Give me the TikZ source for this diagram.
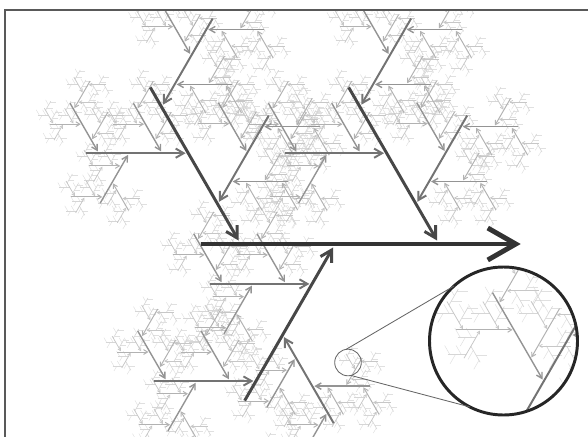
\documentclass[tikz,border=0pt]{standalone}
\usetikzlibrary{arrows.meta}

% one bone and its three smaller bones; only the bones of level \fbPass are drawn
\newcommand\fbSpine{8}
\newcommand\fbRatio{.565}
\newcommand\fbFx{0}\newcommand\fbFy{0}\newcommand\fbFr{1000}
\newcommand\fbShift{0}\newcommand\fbPass{0}

\newcommand\fishbone[4]{% start x, start y, angle, level
 \begingroup
 \pgfmathsetmacro\fbLen{\fbSpine*\fbRatio^#4}%
 \pgfmathsetmacro\fbGap{veclen(#1-\fbFx,#2-\fbFy)-3.1*\fbLen-\fbFr}%
 \ifdim\fbGap pt<0pt
  \ifnum#4=\fbPass
   \pgfmathtruncatemacro\fbLook{min(max(#4-\fbShift,0),8)}%
   \draw[bone\fbLook] (#1,#2) -- ++(#3:\fbLen);
  \else
   \fbchild{#1}{#2}{#3}{#4}{.125}{-60}%
   \fbchild{#1}{#2}{#3}{#4}{.745}{-60}%
   \fbchild{#1}{#2}{#3}{#4}{.42}{60}%
  \fi
 \fi
 \endgroup}

\newcommand\fbchild[6]{% parent x, y, angle, level; place on parent, turn
 \pgfmathsetmacro\fbAng{#3+#6}%
 \pgfmathsetmacro\fbSub{\fbLen*\fbRatio}%
 \pgfmathsetmacro\fbX{#1+#5*\fbLen*cos(#3)-\fbSub*cos(\fbAng)}%
 \pgfmathsetmacro\fbY{#2+#5*\fbLen*sin(#3)-\fbSub*sin(\fbAng)}%
 \pgfmathtruncatemacro\fbNext{#4+1}%
 \edef\fbCall{\noexpand\fishbone{\fbX}{\fbY}{\fbAng}{\fbNext}}\fbCall}

\begin{document}
\begin{tikzpicture}[x=1cm,y=1cm,
 bone0/.style={line width=3.5pt,draw=black!80,-{Straight Barb[length=.7cm,width=.8cm]}},
 bone1/.style={line width=2.1pt,draw=black!72,-{Straight Barb[length=.28cm,width=.32cm]},shorten >=.1cm},
 bone2/.style={line width=1.4pt,draw=black!55,-{Straight Barb[length=.2cm,width=.23cm]},shorten >=.065cm},
 bone3/.style={line width=1pt,draw=black!42,-{Straight Barb[length=.14cm,width=.16cm]},shorten >=.05cm},
 bone4/.style={line width=.7pt,draw=black!30,-{Straight Barb[length=.1cm,width=.12cm]},shorten >=.035cm},
 bone5/.style={line width=.55pt,draw=black!22,-{Straight Barb[length=.07cm,width=.08cm]},shorten >=.02cm},
 bone6/.style={line width=.45pt,draw=black!16},
 bone7/.style={line width=.35pt,draw=black!12},
 bone8/.style={line width=.3pt,draw=black!9},
 frame/.style={draw=black!65,line width=1.1pt},
 lensring/.style={circle,draw=black!60,line width=.6pt,minimum size=.665cm,inner sep=0pt,outer sep=0pt},
 zoomring/.style={circle,draw=black!85,line width=2.1pt,minimum size=3.7cm,inner sep=0pt,outer sep=0pt},
 lensline/.style={draw=black!60,line width=.6pt}]
\useasboundingbox (0,0) rectangle (14.7,10.9);
\begin{scope}
\clip (.125,-1) rectangle (15,10.65);
\foreach \p in {7,...,0}{\renewcommand\fbPass{\p}\fishbone{5.0175}{4.8}{0}{0}}
\end{scope}
\draw[frame] (.125,-1) rectangle (15,10.65);
% magnified view
\fill[white] (12.5875,2.375) circle[radius=1.85];
\begin{scope}
\clip (12.5875,2.375) circle[radius=1.85];
\renewcommand\fbFx{8.7}\renewcommand\fbFy{1.8375}\renewcommand\fbFr{.34}
\renewcommand\fbShift{2}
\begin{scope}[shift={(12.5875,2.375)},scale=5.564,shift={(-8.7,-1.8375)}]
\foreach \p in {9,...,0}{\renewcommand\fbPass{\p}\fishbone{5.0175}{4.8}{0}{0}}
\end{scope}
\end{scope}
\node[zoomring] (zoom) at (12.5875,2.375) {};
\node[lensring] (lens) at (8.7,1.8375) {};
\draw[lensline] (lens.98) -- (zoom.132);
\draw[lensline] (lens.-77) -- (zoom.-117);
\end{tikzpicture}
\end{document}
